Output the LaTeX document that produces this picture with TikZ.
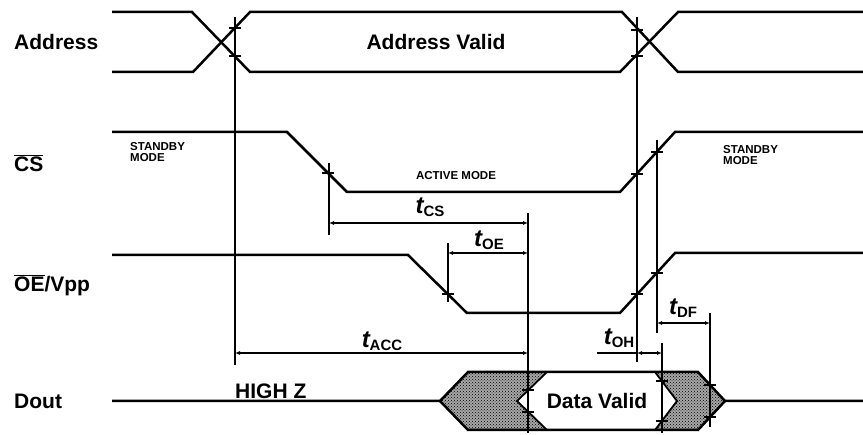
\documentclass[tikz,border=0pt]{standalone}
\usepackage{fontspec}
\setmainfont{Liberation Sans}
\usetikzlibrary{arrows.meta,patterns}
\newcommand{\tname}[1]{{\fontsize{24}{24}\selectfont\bfseries\itshape t}\raisebox{-0.55ex}{\fontsize{15}{15}\selectfont\bfseries #1}}

\begin{document}
\begin{tikzpicture}[x=1pt, y=-1pt,
    sig/.style={line width=2.5pt, line join=miter},
    guide/.style={line width=1.8pt},
    dim/.style={line width=1.3pt, {Latex[length=5pt,width=4pt]}-{Latex[length=5pt,width=4pt]}},
    tickmark/.style={line width=1.4pt},
    shade/.style={fill=black!35, postaction={pattern=crosshatch dots, pattern color=black}},
    lbl/.style={anchor=west, inner sep=0pt, font=\fontsize{21}{24}\selectfont\bfseries},
    mode/.style={anchor=north west, inner sep=0pt, align=left, font=\fontsize{11.5}{11}\selectfont\bfseries},
    tlbl/.style={inner sep=0pt}]
    \useasboundingbox (0,0) rectangle (863,435);

    \node[lbl] (addr) at (14,42)  {Address};
    \node[lbl] (cs)   at (14,163) {$\overline{\mbox{CS}}$};
    \node[lbl] (oe)   at (14,285) {$\overline{\mbox{OE}}$/Vpp};
    \node[lbl] (dout) at (14,401) {Dout};

    % signal traces
    \draw[sig] (112,12) -- (192,12) -- (250,72) -- (620,72) -- (678,12) -- (863,12);
    \draw[sig] (112,72) -- (193,72) -- (250,12) -- (622,12) -- (678,72) -- (863,72);
    \draw[sig] (112,132) -- (287,132) -- (347,192) -- (620,192) -- (675,132) -- (863,132);
    \draw[sig] (112,255) -- (408,255) -- (467,313) -- (620,313) -- (675,253) -- (863,253);
    \fill[shade] (440,401) -- (468,372) -- (547,372) -- (517,401) -- (547,430) -- (468,430) -- cycle;
    \fill[shade] (655,372) -- (698,372) -- (725,401) -- (698,430) -- (655,430) -- (677,401) -- cycle;
    \draw[sig] (112,401) -- (440,401) -- (468,372) -- (698,372) -- (725,401) -- (863,401);
    \draw[sig] (440,401) -- (468,430) -- (698,430) -- (725,401);
    \draw[guide] (547,372) -- (517,401) -- (547,430);
    \draw[guide] (655,372) -- (677,401) -- (655,430);

    \node[font=\fontsize{21}{24}\selectfont\bfseries] (av) at (436,42) {Address Valid};
    \node[font=\fontsize{21}{24}\selectfont\bfseries] (dv) at (597,401) {Data Valid};
    \node[anchor=south west, inner sep=0pt, font=\fontsize{21}{24}\selectfont\bfseries] (hz) at (235,399) {HIGH Z};
    \node[mode] (sb1) at (130,142) {STANDBY\\MODE};
    \node[mode] (sb2) at (723,145) {STANDBY\\MODE};
    \node[mode, anchor=center] (act) at (456,176) {ACTIVE MODE};

    % reference lines
    \foreach \x/\ya/\yb in {235/17/365, 637/17/362, 329/163/235, 528/213/433,
                            448/243/302, 657/140/333, 662/343/433, 710/313/427}
        \draw[guide] (\x,\ya) -- (\x,\yb);
    \foreach \x/\y in {235/28, 235/56, 637/30, 637/56, 328/173, 637/174, 657/152,
                       448/294, 637/294, 657/273, 528/390, 528/412,
                       662/381, 662/421, 710/385, 710/417}
        \draw[tickmark] (\x-6,\y) -- (\x+6,\y);

    % timing parameters
    \coordinate (csa) at (329,223);  \coordinate (csb) at (528,223);
    \coordinate (oea) at (448,253);  \coordinate (oeb) at (528,253);
    \coordinate (acca) at (235,353); \coordinate (accb) at (528,353);
    \coordinate (oh0) at (597,353);  \coordinate (oha) at (637,353); \coordinate (ohb) at (662,353);
    \coordinate (dfa) at (657,323);  \coordinate (dfb) at (710,323);
    \foreach \a/\b in {csa/csb, oea/oeb, acca/accb, oha/ohb, dfa/dfb}
        \draw[dim] (\a) -- (\b);
    \draw[line width=1.3pt] (oh0) -- (oha);

    \node[tlbl] (tcs)  at (430,207) {\tname{CS}};
    \node[tlbl] (toe)  at (489,240) {\tname{OE}};
    \node[tlbl] (tacc) at (382,341) {\tname{ACC}};
    \node[tlbl] (toh)  at (619,338) {\tname{OH}};
    \node[tlbl] (tdf)  at (683,308) {\tname{DF}};
\end{tikzpicture}
\end{document}
